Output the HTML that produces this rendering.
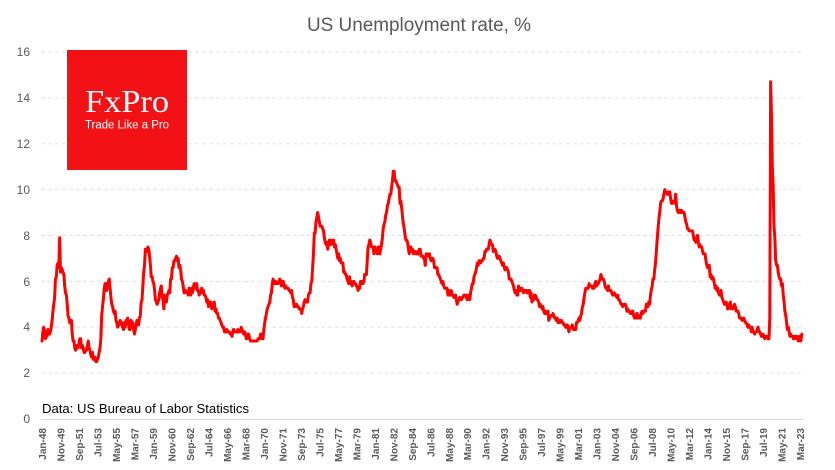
<!DOCTYPE html>
<html><head><meta charset="utf-8"><style>
html,body{margin:0;padding:0;background:#fff;}
svg{display:block;}
</style></head><body>
<svg width="835" height="470" viewBox="0 0 835 470" xmlns="http://www.w3.org/2000/svg" font-family="Liberation Sans, sans-serif">
<rect width="835" height="470" fill="#fff"/>
<text x="419" y="31" text-anchor="middle" font-size="19" fill="#595959" textLength="224" lengthAdjust="spacingAndGlyphs">US Unemployment rate, %</text>
<g stroke="#E3E3E3" stroke-width="1" stroke-dasharray="4,3">
<line x1="41" y1="52" x2="803" y2="52"/>
<line x1="41" y1="97.8" x2="803" y2="97.8"/>
<line x1="41" y1="143.7" x2="803" y2="143.7"/>
<line x1="41" y1="189.6" x2="803" y2="189.6"/>
<line x1="41" y1="235.5" x2="803" y2="235.5"/>
<line x1="41" y1="281.4" x2="803" y2="281.4"/>
<line x1="41" y1="327.2" x2="803" y2="327.2"/>
<line x1="41" y1="373.1" x2="803" y2="373.1"/>
</g>
<line x1="41" y1="419.5" x2="803" y2="419.5" stroke="#D9D9D9" stroke-width="1"/>
<g font-size="12" fill="#595959" text-anchor="end">
<text x="30" y="56">16</text>
<text x="30" y="102">14</text>
<text x="30" y="148">12</text>
<text x="30" y="194">10</text>
<text x="30" y="240">8</text>
<text x="30" y="286">6</text>
<text x="30" y="331">4</text>
<text x="30" y="377">2</text>
<text x="30" y="423">0</text>
</g>
<rect x="67" y="50" width="120" height="120" fill="#F21114"/>
<text x="85" y="112" style="font-family:'Liberation Serif',serif" font-size="32" fill="#fff" textLength="84" lengthAdjust="spacingAndGlyphs">FxPro</text>
<text x="85" y="128.5" font-size="11.5" fill="#fff" textLength="84" lengthAdjust="spacingAndGlyphs">Trade Like a Pro</text>
<text x="42" y="413" font-size="13" fill="#000" textLength="207" lengthAdjust="spacingAndGlyphs">Data: US Bureau of Labor Statistics</text>
<g transform="translate(42,419) scale(0.8404,-22.94)" fill="none" stroke="#FF0000" stroke-width="3" stroke-linejoin="round" stroke-linecap="round">
<polyline vector-effect="non-scaling-stroke" transform="translate(0,0)" points="0,3.4 1,3.8 2,4.0 3,3.9 4,3.5 5,3.6 6,3.6 7,3.9 8,3.8 9,3.7 10,3.8 11,4.0 12,4.3"/>
<polyline vector-effect="non-scaling-stroke" transform="translate(12,0)" points="0,4.3 1,4.7 2,5.0 3,5.3 4,6.1 5,6.2 6,6.7 7,6.8 8,6.6 9,7.9 10,6.4 11,6.6 12,6.5"/>
<polyline vector-effect="non-scaling-stroke" transform="translate(24,0)" points="0,6.5 1,6.4 2,6.3 3,5.8 4,5.5 5,5.4 6,5.0 7,4.5 8,4.4 9,4.2 10,4.2 11,4.3 12,3.7"/>
<polyline vector-effect="non-scaling-stroke" transform="translate(36,0)" points="0,3.7 1,3.4 2,3.4 3,3.1 4,3.0 5,3.2 6,3.1 7,3.1 8,3.3 9,3.5 10,3.5 11,3.1 12,3.2"/>
<polyline vector-effect="non-scaling-stroke" transform="translate(48,0)" points="0,3.2 1,3.1 2,2.9 3,2.9 4,3.0 5,3.0 6,3.2 7,3.4 8,3.1 9,3.0 10,2.8 11,2.7 12,2.9"/>
<polyline vector-effect="non-scaling-stroke" transform="translate(60,0)" points="0,2.9 1,2.6 2,2.6 3,2.7 4,2.5 5,2.5 6,2.6 7,2.7 8,2.9 9,3.1 10,3.5 11,4.5 12,4.9"/>
<polyline vector-effect="non-scaling-stroke" transform="translate(72,0)" points="0,4.9 1,5.2 2,5.7 3,5.9 4,5.9 5,5.6 6,5.8 7,6.0 8,6.1 9,5.7 10,5.3 11,5.0 12,4.9"/>
<polyline vector-effect="non-scaling-stroke" transform="translate(84,0)" points="0,4.9 1,4.7 2,4.6 3,4.7 4,4.3 5,4.2 6,4.0 7,4.2 8,4.1 9,4.3 10,4.2 11,4.2 12,4.0"/>
<polyline vector-effect="non-scaling-stroke" transform="translate(96,0)" points="0,4.0 1,3.9 2,4.2 3,4.0 4,4.3 5,4.3 6,4.4 7,4.1 8,3.9 9,3.9 10,4.3 11,4.2 12,4.2"/>
<polyline vector-effect="non-scaling-stroke" transform="translate(108,0)" points="0,4.2 1,3.9 2,3.7 3,3.9 4,4.1 5,4.3 6,4.2 7,4.1 8,4.4 9,4.5 10,5.1 11,5.2 12,5.8"/>
<polyline vector-effect="non-scaling-stroke" transform="translate(120,0)" points="0,5.8 1,6.4 2,6.7 3,7.4 4,7.4 5,7.3 6,7.5 7,7.4 8,7.1 9,6.7 10,6.2 11,6.2 12,6.0"/>
<polyline vector-effect="non-scaling-stroke" transform="translate(132,0)" points="0,6.0 1,5.9 2,5.6 3,5.2 4,5.1 5,5.0 6,5.1 7,5.2 8,5.5 9,5.7 10,5.8 11,5.3 12,5.2"/>
<polyline vector-effect="non-scaling-stroke" transform="translate(144,0)" points="0,5.2 1,4.8 2,5.4 3,5.2 4,5.1 5,5.4 6,5.5 7,5.6 8,5.5 9,6.1 10,6.1 11,6.6 12,6.6"/>
<polyline vector-effect="non-scaling-stroke" transform="translate(156,0)" points="0,6.6 1,6.9 2,6.9 3,7.0 4,7.1 5,6.9 6,7.0 7,6.6 8,6.7 9,6.5 10,6.1 11,6.0 12,5.8"/>
<polyline vector-effect="non-scaling-stroke" transform="translate(168,0)" points="0,5.8 1,5.5 2,5.6 3,5.6 4,5.5 5,5.5 6,5.4 7,5.7 8,5.6 9,5.4 10,5.7 11,5.5 12,5.7"/>
<polyline vector-effect="non-scaling-stroke" transform="translate(180,0)" points="0,5.7 1,5.9 2,5.7 3,5.7 4,5.9 5,5.6 6,5.6 7,5.4 8,5.5 9,5.5 10,5.7 11,5.5 12,5.6"/>
<polyline vector-effect="non-scaling-stroke" transform="translate(192,0)" points="0,5.6 1,5.4 2,5.4 3,5.3 4,5.1 5,5.2 6,4.9 7,5.0 8,5.1 9,5.1 10,4.8 11,5.0 12,4.9"/>
<polyline vector-effect="non-scaling-stroke" transform="translate(204,0)" points="0,4.9 1,5.1 2,4.7 3,4.8 4,4.6 5,4.6 6,4.4 7,4.4 8,4.3 9,4.2 10,4.1 11,4.0 12,4.0"/>
<polyline vector-effect="non-scaling-stroke" transform="translate(216,0)" points="0,4.0 1,3.8 2,3.8 3,3.8 4,3.9 5,3.8 6,3.8 7,3.8 8,3.7 9,3.7 10,3.6 11,3.8 12,3.9"/>
<polyline vector-effect="non-scaling-stroke" transform="translate(228,0)" points="0,3.9 1,3.8 2,3.8 3,3.8 4,3.8 5,3.9 6,3.8 7,3.8 8,3.8 9,4.0 10,3.9 11,3.8 12,3.7"/>
<polyline vector-effect="non-scaling-stroke" transform="translate(240,0)" points="0,3.7 1,3.8 2,3.7 3,3.5 4,3.5 5,3.7 6,3.7 7,3.5 8,3.4 9,3.4 10,3.4 11,3.4 12,3.4"/>
<polyline vector-effect="non-scaling-stroke" transform="translate(252,0)" points="0,3.4 1,3.4 2,3.4 3,3.4 4,3.4 5,3.5 6,3.5 7,3.5 8,3.7 9,3.7 10,3.5 11,3.5 12,3.9"/>
<polyline vector-effect="non-scaling-stroke" transform="translate(264,0)" points="0,3.9 1,4.2 2,4.4 3,4.6 4,4.8 5,4.9 6,5.0 7,5.1 8,5.4 9,5.5 10,5.9 11,6.1 12,5.9"/>
<polyline vector-effect="non-scaling-stroke" transform="translate(276,0)" points="0,5.9 1,5.9 2,6.0 3,5.9 4,5.9 5,5.9 6,6.0 7,6.1 8,6.0 9,5.8 10,6.0 11,6.0 12,5.8"/>
<polyline vector-effect="non-scaling-stroke" transform="translate(288,0)" points="0,5.8 1,5.7 2,5.8 3,5.7 4,5.7 5,5.7 6,5.6 7,5.6 8,5.5 9,5.6 10,5.3 11,5.2 12,4.9"/>
<polyline vector-effect="non-scaling-stroke" transform="translate(300,0)" points="0,4.9 1,5.0 2,4.9 3,5.0 4,4.9 5,4.9 6,4.8 7,4.8 8,4.8 9,4.6 10,4.8 11,4.9 12,5.1"/>
<polyline vector-effect="non-scaling-stroke" transform="translate(312,0)" points="0,5.1 1,5.2 2,5.1 3,5.1 4,5.1 5,5.4 6,5.5 7,5.5 8,5.9 9,6.0 10,6.6 11,7.2 12,8.1"/>
<polyline vector-effect="non-scaling-stroke" transform="translate(324,0)" points="0,8.1 1,8.1 2,8.6 3,8.8 4,9.0 5,8.8 6,8.6 7,8.4 8,8.4 9,8.4 10,8.3 11,8.2 12,7.9"/>
<polyline vector-effect="non-scaling-stroke" transform="translate(336,0)" points="0,7.9 1,7.7 2,7.6 3,7.7 4,7.4 5,7.6 6,7.8 7,7.8 8,7.6 9,7.7 10,7.8 11,7.8 12,7.5"/>
<polyline vector-effect="non-scaling-stroke" transform="translate(348,0)" points="0,7.5 1,7.6 2,7.4 3,7.2 4,7.0 5,7.2 6,6.9 7,7.0 8,6.8 9,6.8 10,6.8 11,6.4 12,6.4"/>
<polyline vector-effect="non-scaling-stroke" transform="translate(360,0)" points="0,6.4 1,6.3 2,6.3 3,6.1 4,6.0 5,5.9 6,6.2 7,5.9 8,6.0 9,5.8 10,5.9 11,6.0 12,5.9"/>
<polyline vector-effect="non-scaling-stroke" transform="translate(372,0)" points="0,5.9 1,5.9 2,5.8 3,5.8 4,5.6 5,5.7 6,5.7 7,6.0 8,5.9 9,6.0 10,5.9 11,6.0 12,6.3"/>
<polyline vector-effect="non-scaling-stroke" transform="translate(384,0)" points="0,6.3 1,6.3 2,6.3 3,6.9 4,7.5 5,7.6 6,7.8 7,7.7 8,7.5 9,7.5 10,7.5 11,7.2 12,7.5"/>
<polyline vector-effect="non-scaling-stroke" transform="translate(396,0)" points="0,7.5 1,7.4 2,7.4 3,7.2 4,7.5 5,7.5 6,7.2 7,7.4 8,7.6 9,7.9 10,8.3 11,8.5 12,8.6"/>
<polyline vector-effect="non-scaling-stroke" transform="translate(408,0)" points="0,8.6 1,8.9 2,9.0 3,9.3 4,9.4 5,9.6 6,9.8 7,9.8 8,10.1 9,10.4 10,10.8 11,10.8 12,10.4"/>
<polyline vector-effect="non-scaling-stroke" transform="translate(420,0)" points="0,10.4 1,10.4 2,10.3 3,10.2 4,10.1 5,10.1 6,9.4 7,9.5 8,9.2 9,8.8 10,8.5 11,8.3 12,8.0"/>
<polyline vector-effect="non-scaling-stroke" transform="translate(432,0)" points="0,8.0 1,7.8 2,7.8 3,7.7 4,7.4 5,7.2 6,7.5 7,7.5 8,7.3 9,7.4 10,7.2 11,7.3 12,7.3"/>
<polyline vector-effect="non-scaling-stroke" transform="translate(444,0)" points="0,7.3 1,7.2 2,7.2 3,7.3 4,7.2 5,7.4 6,7.4 7,7.1 8,7.1 9,7.1 10,7.0 11,7.0 12,6.7"/>
<polyline vector-effect="non-scaling-stroke" transform="translate(456,0)" points="0,6.7 1,7.2 2,7.2 3,7.1 4,7.2 5,7.2 6,7.0 7,6.9 8,7.0 9,7.0 10,6.9 11,6.6 12,6.6"/>
<polyline vector-effect="non-scaling-stroke" transform="translate(468,0)" points="0,6.6 1,6.6 2,6.6 3,6.3 4,6.3 5,6.2 6,6.1 7,6.0 8,5.9 9,6.0 10,5.8 11,5.7 12,5.7"/>
<polyline vector-effect="non-scaling-stroke" transform="translate(480,0)" points="0,5.7 1,5.7 2,5.7 3,5.4 4,5.6 5,5.4 6,5.4 7,5.6 8,5.4 9,5.4 10,5.3 11,5.3 12,5.4"/>
<polyline vector-effect="non-scaling-stroke" transform="translate(492,0)" points="0,5.4 1,5.2 2,5.0 3,5.2 4,5.2 5,5.3 6,5.2 7,5.2 8,5.3 9,5.3 10,5.4 11,5.4 12,5.4"/>
<polyline vector-effect="non-scaling-stroke" transform="translate(504,0)" points="0,5.4 1,5.3 2,5.2 3,5.4 4,5.4 5,5.2 6,5.5 7,5.7 8,5.9 9,5.9 10,6.2 11,6.3 12,6.4"/>
<polyline vector-effect="non-scaling-stroke" transform="translate(516,0)" points="0,6.4 1,6.6 2,6.8 3,6.7 4,6.9 5,6.9 6,6.8 7,6.9 8,6.9 9,7.0 10,7.0 11,7.3 12,7.3"/>
<polyline vector-effect="non-scaling-stroke" transform="translate(528,0)" points="0,7.3 1,7.4 2,7.4 3,7.4 4,7.6 5,7.8 6,7.7 7,7.6 8,7.6 9,7.3 10,7.4 11,7.4 12,7.3"/>
<polyline vector-effect="non-scaling-stroke" transform="translate(540,0)" points="0,7.3 1,7.1 2,7.0 3,7.1 4,7.1 5,7.0 6,6.9 7,6.8 8,6.7 9,6.8 10,6.6 11,6.5 12,6.6"/>
<polyline vector-effect="non-scaling-stroke" transform="translate(552,0)" points="0,6.6 1,6.6 2,6.5 3,6.4 4,6.1 5,6.1 6,6.1 7,6.0 8,5.9 9,5.8 10,5.6 11,5.5 12,5.6"/>
<polyline vector-effect="non-scaling-stroke" transform="translate(564,0)" points="0,5.6 1,5.4 2,5.4 3,5.8 4,5.6 5,5.6 6,5.7 7,5.7 8,5.6 9,5.5 10,5.6 11,5.6 12,5.6"/>
<polyline vector-effect="non-scaling-stroke" transform="translate(576,0)" points="0,5.6 1,5.5 2,5.5 3,5.6 4,5.6 5,5.3 6,5.5 7,5.1 8,5.2 9,5.2 10,5.4 11,5.4 12,5.3"/>
<polyline vector-effect="non-scaling-stroke" transform="translate(588,0)" points="0,5.3 1,5.2 2,5.2 3,5.1 4,4.9 5,5.0 6,4.9 7,4.8 8,4.9 9,4.7 10,4.6 11,4.7 12,4.6"/>
<polyline vector-effect="non-scaling-stroke" transform="translate(600,0)" points="0,4.6 1,4.6 2,4.7 3,4.3 4,4.4 5,4.5 6,4.5 7,4.5 8,4.6 9,4.5 10,4.4 11,4.4 12,4.3"/>
<polyline vector-effect="non-scaling-stroke" transform="translate(612,0)" points="0,4.3 1,4.4 2,4.2 3,4.3 4,4.2 5,4.3 6,4.3 7,4.2 8,4.2 9,4.1 10,4.1 11,4.0 12,4.0"/>
<polyline vector-effect="non-scaling-stroke" transform="translate(624,0)" points="0,4.0 1,4.1 2,4.0 3,3.8 4,4.0 5,4.0 6,4.0 7,4.1 8,3.9 9,3.9 10,3.9 11,3.9 12,4.2"/>
<polyline vector-effect="non-scaling-stroke" transform="translate(636,0)" points="0,4.2 1,4.2 2,4.3 3,4.4 4,4.3 5,4.5 6,4.6 7,4.9 8,5.0 9,5.3 10,5.5 11,5.7 12,5.7"/>
<polyline vector-effect="non-scaling-stroke" transform="translate(648,0)" points="0,5.7 1,5.7 2,5.7 3,5.9 4,5.8 5,5.8 6,5.8 7,5.7 8,5.7 9,5.7 10,5.9 11,6.0 12,5.8"/>
<polyline vector-effect="non-scaling-stroke" transform="translate(660,0)" points="0,5.8 1,5.9 2,5.9 3,6.0 4,6.1 5,6.3 6,6.2 7,6.1 8,6.1 9,6.0 10,5.8 11,5.7 12,5.7"/>
<polyline vector-effect="non-scaling-stroke" transform="translate(672,0)" points="0,5.7 1,5.6 2,5.8 3,5.6 4,5.6 5,5.6 6,5.5 7,5.4 8,5.4 9,5.5 10,5.4 11,5.4 12,5.3"/>
<polyline vector-effect="non-scaling-stroke" transform="translate(684,0)" points="0,5.3 1,5.4 2,5.2 3,5.2 4,5.1 5,5.0 6,5.0 7,4.9 8,5.0 9,5.0 10,5.0 11,4.9 12,4.7"/>
<polyline vector-effect="non-scaling-stroke" transform="translate(696,0)" points="0,4.7 1,4.8 2,4.7 3,4.7 4,4.6 5,4.6 6,4.7 7,4.7 8,4.5 9,4.4 10,4.5 11,4.4 12,4.6"/>
<polyline vector-effect="non-scaling-stroke" transform="translate(708,0)" points="0,4.6 1,4.5 2,4.4 3,4.5 4,4.4 5,4.6 6,4.7 7,4.6 8,4.7 9,4.7 10,4.7 11,5.0 12,5.0"/>
<polyline vector-effect="non-scaling-stroke" transform="translate(720,0)" points="0,5.0 1,4.9 2,5.1 3,5.0 4,5.4 5,5.6 6,5.8 7,6.1 8,6.1 9,6.5 10,6.8 11,7.3 12,7.8"/>
<polyline vector-effect="non-scaling-stroke" transform="translate(732,0)" points="0,7.8 1,8.3 2,8.7 3,9.0 4,9.4 5,9.5 6,9.5 7,9.6 8,9.8 9,10.0 10,9.9 11,9.9 12,9.8"/>
<polyline vector-effect="non-scaling-stroke" transform="translate(744,0)" points="0,9.8 1,9.8 2,9.9 3,9.9 4,9.6 5,9.4 6,9.4 7,9.5 8,9.5 9,9.4 10,9.8 11,9.3 12,9.1"/>
<polyline vector-effect="non-scaling-stroke" transform="translate(756,0)" points="0,9.1 1,9.0 2,9.0 3,9.1 4,9.0 5,9.1 6,9.0 7,9.0 8,9.0 9,8.8 10,8.6 11,8.5 12,8.3"/>
<polyline vector-effect="non-scaling-stroke" transform="translate(768,0)" points="0,8.3 1,8.3 2,8.2 3,8.2 4,8.2 5,8.2 6,8.2 7,8.0 8,7.8 9,7.8 10,7.7 11,7.9 12,8.0"/>
<polyline vector-effect="non-scaling-stroke" transform="translate(780,0)" points="0,8.0 1,7.7 2,7.5 3,7.6 4,7.5 5,7.5 6,7.3 7,7.2 8,7.2 9,7.2 10,6.9 11,6.7 12,6.6"/>
<polyline vector-effect="non-scaling-stroke" transform="translate(792,0)" points="0,6.6 1,6.7 2,6.7 3,6.2 4,6.3 5,6.1 6,6.2 7,6.1 8,5.9 9,5.7 10,5.8 11,5.6 12,5.7"/>
<polyline vector-effect="non-scaling-stroke" transform="translate(804,0)" points="0,5.7 1,5.5 2,5.4 3,5.4 4,5.6 5,5.3 6,5.2 7,5.1 8,5.0 9,5.0 10,5.1 11,5.0 12,4.8"/>
<polyline vector-effect="non-scaling-stroke" transform="translate(816,0)" points="0,4.8 1,4.9 2,5.0 3,5.1 4,4.8 5,4.9 6,4.8 7,4.9 8,5.0 9,4.9 10,4.7 11,4.7 12,4.7"/>
<polyline vector-effect="non-scaling-stroke" transform="translate(828,0)" points="0,4.7 1,4.6 2,4.4 3,4.4 4,4.4 5,4.3 6,4.3 7,4.4 8,4.3 9,4.2 10,4.2 11,4.1 12,4.0"/>
<polyline vector-effect="non-scaling-stroke" transform="translate(840,0)" points="0,4.0 1,4.1 2,4.0 3,4.0 4,3.8 5,4.0 6,3.8 7,3.8 8,3.7 9,3.8 10,3.8 11,3.9 12,4.0"/>
<polyline vector-effect="non-scaling-stroke" transform="translate(852,0)" points="0,4.0 1,3.8 2,3.8 3,3.7 4,3.6 5,3.6 6,3.7 7,3.6 8,3.5 9,3.6 10,3.6 11,3.6 12,3.5"/>
<polyline vector-effect="non-scaling-stroke" transform="translate(864,0)" points="0,3.5 1,3.5 2,4.4 3,14.7 4,13.2 5,11.0 6,10.2 7,8.4 8,7.9 9,6.9 10,6.7 11,6.7 12,6.4"/>
<polyline vector-effect="non-scaling-stroke" transform="translate(876,0)" points="0,6.4 1,6.2 2,6.1 3,6.1 4,5.8 5,5.9 6,5.4 7,5.1 8,4.7 9,4.5 10,4.2 11,3.9 12,4.0"/>
<polyline vector-effect="non-scaling-stroke" transform="translate(888,0)" points="0,4.0 1,3.8 2,3.6 3,3.7 4,3.6 5,3.6 6,3.5 7,3.6 8,3.5 9,3.6 10,3.6 11,3.5 12,3.4"/>
<polyline vector-effect="non-scaling-stroke" transform="translate(900,0)" points="0,3.4 1,3.6 2,3.5 3,3.4 4,3.7"/>
</g>
<g font-size="10" font-weight="bold" fill="#595959" text-anchor="end">
<text transform="translate(46,428) rotate(-90)">Jan-48</text>
<text transform="translate(64.5,428) rotate(-90)">Nov-49</text>
<text transform="translate(83,428) rotate(-90)">Sep-51</text>
<text transform="translate(101.5,428) rotate(-90)">Jul-53</text>
<text transform="translate(120,428) rotate(-90)">May-55</text>
<text transform="translate(138.4,428) rotate(-90)">Mar-57</text>
<text transform="translate(156.9,428) rotate(-90)">Jan-59</text>
<text transform="translate(175.4,428) rotate(-90)">Nov-60</text>
<text transform="translate(193.9,428) rotate(-90)">Sep-62</text>
<text transform="translate(212.4,428) rotate(-90)">Jul-64</text>
<text transform="translate(230.9,428) rotate(-90)">May-66</text>
<text transform="translate(249.4,428) rotate(-90)">Mar-68</text>
<text transform="translate(267.9,428) rotate(-90)">Jan-70</text>
<text transform="translate(286.4,428) rotate(-90)">Nov-71</text>
<text transform="translate(304.8,428) rotate(-90)">Sep-73</text>
<text transform="translate(323.3,428) rotate(-90)">Jul-75</text>
<text transform="translate(341.8,428) rotate(-90)">May-77</text>
<text transform="translate(360.3,428) rotate(-90)">Mar-79</text>
<text transform="translate(378.8,428) rotate(-90)">Jan-81</text>
<text transform="translate(397.3,428) rotate(-90)">Nov-82</text>
<text transform="translate(415.8,428) rotate(-90)">Sep-84</text>
<text transform="translate(434.3,428) rotate(-90)">Jul-86</text>
<text transform="translate(452.8,428) rotate(-90)">May-88</text>
<text transform="translate(471.2,428) rotate(-90)">Mar-90</text>
<text transform="translate(489.7,428) rotate(-90)">Jan-92</text>
<text transform="translate(508.2,428) rotate(-90)">Nov-93</text>
<text transform="translate(526.7,428) rotate(-90)">Sep-95</text>
<text transform="translate(545.2,428) rotate(-90)">Jul-97</text>
<text transform="translate(563.7,428) rotate(-90)">May-99</text>
<text transform="translate(582.2,428) rotate(-90)">Mar-01</text>
<text transform="translate(600.7,428) rotate(-90)">Jan-03</text>
<text transform="translate(619.2,428) rotate(-90)">Nov-04</text>
<text transform="translate(637.6,428) rotate(-90)">Sep-06</text>
<text transform="translate(656.1,428) rotate(-90)">Jul-08</text>
<text transform="translate(674.6,428) rotate(-90)">May-10</text>
<text transform="translate(693.1,428) rotate(-90)">Mar-12</text>
<text transform="translate(711.6,428) rotate(-90)">Jan-14</text>
<text transform="translate(730.1,428) rotate(-90)">Nov-15</text>
<text transform="translate(748.6,428) rotate(-90)">Sep-17</text>
<text transform="translate(767.1,428) rotate(-90)">Jul-19</text>
<text transform="translate(785.6,428) rotate(-90)">May-21</text>
<text transform="translate(804,428) rotate(-90)">Mar-23</text>
</g>
</svg>
</body></html>
